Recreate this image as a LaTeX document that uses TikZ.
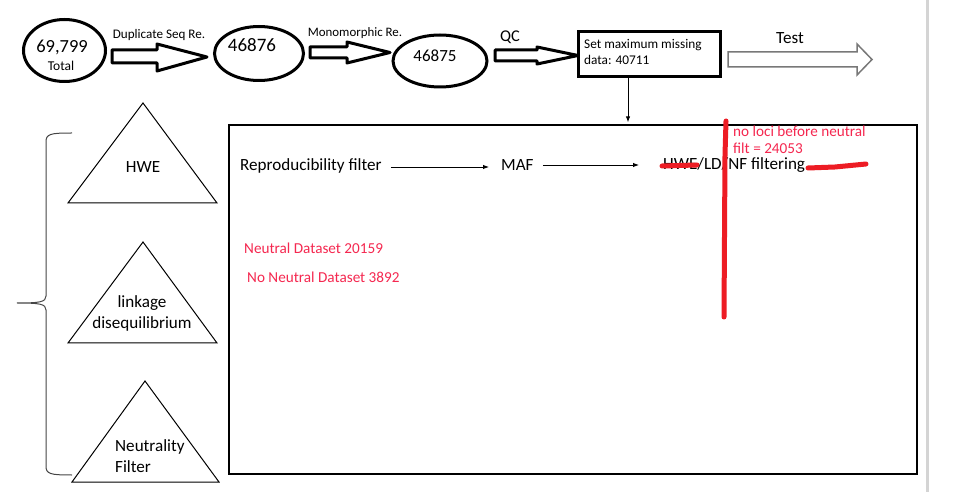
\documentclass[tikz,border=0pt]{standalone}
\usepackage{fontspec}
\setmainfont{Carlito}
\usetikzlibrary{shapes.geometric,arrows.meta,calc}
\definecolor{redmark}{RGB}{237,28,36}
\definecolor{redtext}{RGB}{245,40,80}
\definecolor{arrowgray}{RGB}{120,120,120}
\definecolor{edgegray}{RGB}{212,212,212}
\definecolor{bracegray}{RGB}{70,70,70}
\newcommand\myfs[2]{\fontsize{#1}{#2}\selectfont}
\begin{document}
\begin{tikzpicture}[x=1pt,y=-1pt,
  oval/.style={ellipse,draw,line width=3pt,inner sep=0pt},
  blockarrow/.style={draw,line width=3pt,line join=round,fill=white},
  thinarrow/.style={-{Latex[length=6pt,width=4.5pt]},line width=0.9pt},
  txt/.style={inner sep=0pt,font=\myfs{17.1}{20}},
  small/.style={inner sep=0pt,font=\myfs{13.3}{16}},
  redlbl/.style={inner sep=0pt,text=redtext,font=\myfs{15.2}{18},anchor=west},
  tri/.style={draw,line width=1pt,line join=miter},
  strike/.style={draw=redmark,line width=5pt,line cap=round,line join=round}]
\fill[white] (0,0) rectangle (953,502);
\path[use as bounding box] (0,0) rectangle (953,502);

% page edge
\draw[edgegray,line width=3pt] (927,0) -- (927,492);

% top row ellipses
\node[oval,minimum width=82pt,minimum height=62pt] (e1) at (64.5,50.5) {};
\node[inner sep=0pt,font=\myfs{18.5}{22}] (n1) at (62,47) {69,799};
\node[inner sep=0pt,font=\myfs{13.5}{16}] (t1) at (61,66) {Total};

\node[oval,minimum width=89pt,minimum height=54pt] (e2) at (259,53.5) {};
\node[inner sep=0pt,font=\myfs{19}{22}] (n2) at (252,45) {46876};

\node[oval,minimum width=94pt,minimum height=52pt] (e3) at (440,61) {};
\node[inner sep=0pt,font=\myfs{17}{20}] (n3) at (435,56) {46875};

% block arrows
\draw[blockarrow] (112,50) -- (157,50) -- (157,44) -- (207,57) -- (157,71) -- (157,63) -- (112,63) -- cycle;
\node[inner sep=0pt,font=\myfs{13.1}{15}] (l1) at (159,35) {Duplicate Seq Re.};

\draw[blockarrow] (310,47) -- (347,47) -- (347,42) -- (390,52.5) -- (347,63) -- (347,58) -- (310,58) -- cycle;
\node[inner sep=0pt,font=\myfs{12.9}{15}] (l2) at (355,33) {Monomorphic Re.};

\draw[blockarrow] (495,50) -- (537,50) -- (537,47) -- (578,55.5) -- (537,64) -- (537,61) -- (495,61) -- cycle;
\node[inner sep=0pt,font=\myfs{16.4}{19}] (qc) at (510,37) {QC};

% missing data box
\node[draw,line width=3pt,minimum width=142pt,minimum height=45pt,inner sep=0pt] (setbox) at (649,54.5) {};
\node[small,anchor=north west,align=left] (settxt) at (584,39) {Set maximum missing\\data: 40711};

% test arrow
\draw[draw=arrowgray,line width=1.5pt,fill=white,line join=miter] (728,52) -- (857,52) -- (857,44) -- (872,59.5) -- (857,75) -- (857,67) -- (728,67) -- cycle;
\node[txt] (test) at (790,38) {Test};

% big box
\node[draw,line width=1.3pt,minimum width=688pt,minimum height=349pt,inner sep=0pt] (bigbox) at (573,299.5) {};
\coordinate (downstart) at ([xshift=-21pt]setbox.south);
\coordinate (downend) at ([yshift=2pt]downstart |- bigbox.north);
\draw[thinarrow] (downstart) -- (downend);

% filter row
\node[txt,anchor=west] (repro) at (240,166) {Reproducibility filter};
\node[txt,anchor=west] (maf) at (501,165) {MAF};
\node[txt,anchor=west] (hwe) at (663,165.5) {HWE/LD/NF filtering};
\coordinate (ra) at ([xshift=9pt,yshift=-1pt]repro.east);
\coordinate (rb) at ([xshift=-12pt]maf.west |- ra);
\draw[thinarrow] (ra) -- (rb);
\coordinate (ma) at ([xshift=9pt]maf.east);
\coordinate (mb) at ([xshift=-24pt]maf.west -| hwe.west);
\coordinate (mb2) at ([xshift=-24pt]hwe.west |- ma);
\draw[thinarrow] (ma) -- (mb2);

% red annotations
\draw[strike] (662,166) -- (697,165);
\draw[strike] (808,168) -- (835,167) -- (866,164);
\draw[strike] (726,121) -- (725,155) -- (724,317);
\node[redlbl] (noloci) at (733,131) {no loci before neutral};
\node[redlbl] (filt) at (733,148) {filt = 24053};
\node[redlbl] (neutral) at (244,248) {Neutral Dataset 20159};
\node[redlbl] (noneutral) at (247,277) {No Neutral Dataset 3892};

% triangles
\draw[tri] (143,103) -- (217,203) -- (68,203) -- cycle;
\node[txt] (hwetxt) at (143,167) {HWE};
\draw[tri] (143,242) -- (217,343) -- (68,343) -- cycle;
\node[txt,align=center,font=\myfs{17.1}{21}] (ldtxt) at (142,313) {linkage\\disequilibrium};
\draw[tri] (145,381) -- (219,482) -- (72,482) -- cycle;
\node[txt,align=left,anchor=west,font=\myfs{17.1}{21}] (nftxt) at (115,456) {Neutrality\\Filter};

% brace
\draw[bracegray,line width=1pt] (72,133) .. controls (50,133) and (46,134) .. (46,142) -- (46,296) .. controls (46,302) and (40,303) .. (17,303) .. controls (40,303) and (46,304) .. (46,310) -- (46,466) .. controls (46,474) and (50,475) .. (72,475);
\end{tikzpicture}
\end{document}
